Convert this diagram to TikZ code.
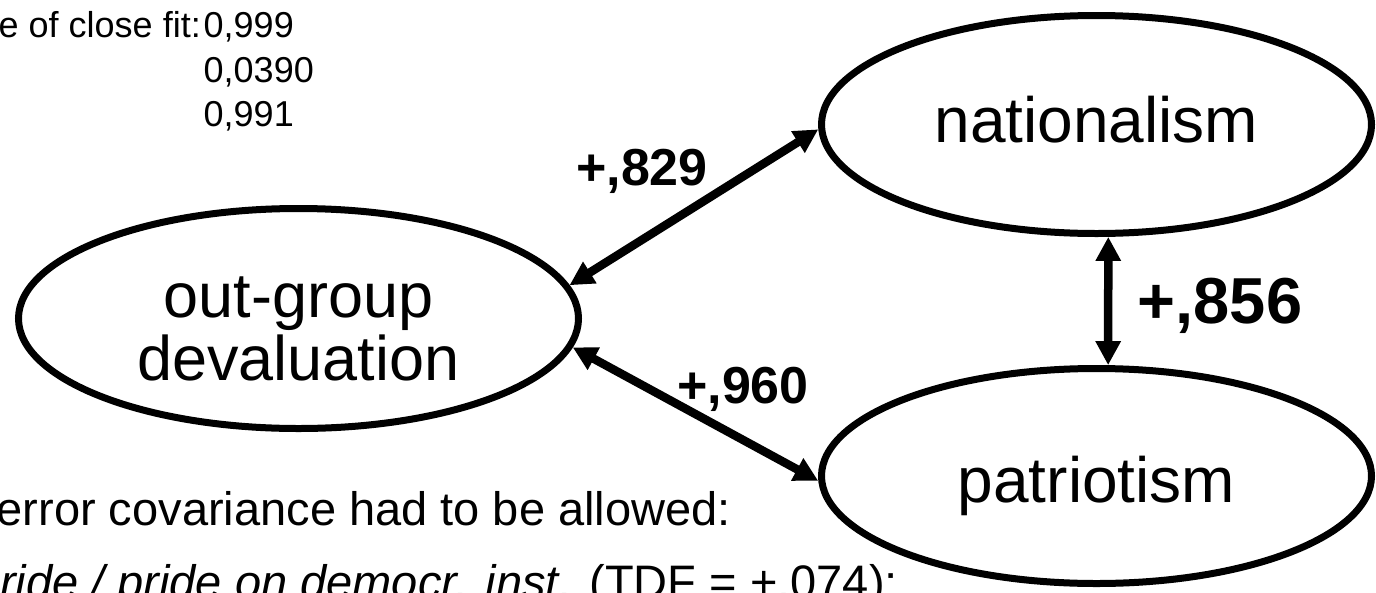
\documentclass[tikz,border=0pt]{standalone}
\usepackage{fontspec}
\setmainfont{Liberation Sans}
\usetikzlibrary{shapes.geometric,arrows.meta}
\begin{document}
\begin{tikzpicture}[x=1pt,y=-1pt,
  latent/.style={ellipse,draw=black,line width=7pt,inner sep=0pt,
     font=\fontsize{64}{64}\selectfont,align=center},
  covarrow/.style={line width=8.5pt,
     {Triangle[length=24pt,width=24pt]}-{Triangle[length=24pt,width=24pt]}},
  coef/.style={font=\bfseries\fontsize{52}{52}\selectfont,anchor=base,inner sep=0pt},
  fitlabel/.style={font=\fontsize{36}{36}\selectfont,inner sep=0pt},
  note/.style={font=\fontsize{47}{47}\selectfont,inner sep=0pt,anchor=base east}
]
\useasboundingbox (0,0) rectangle (1376,592);

% latent variables
\node[latent,minimum width=560pt,minimum height=220pt,
      font=\fontsize{63}{63}\selectfont,text height=123pt,text depth=0pt]
  (og) at (298.5,318.5) {out-group\\devaluation};
\node[latent,minimum width=550pt,minimum height=218pt,
      text height=36pt,text depth=0pt]
  (nat) at (1096.5,124.5) {nationalism};
\node[latent,minimum width=550pt,minimum height=215pt,
      text height=52pt,text depth=0pt]
  (pat) at (1096.5,476) {patriotism};

% covariances
\draw[covarrow] (og.7.45) -- (nat.181.7);
\draw[covarrow] (og.-6.25) -- (pat.181.8);
\draw[covarrow] (nat.-84.8) -- (pat.84.7);

% coefficients
\node[coef] (c829) at (642,185) {+,829};
\node[coef] (c960) at (743,403) {+,960};
\node[coef,font=\bfseries\fontsize{65}{65}\selectfont] (c856) at (1220,323) {+,856};

% fit indices
\node[fitlabel,anchor=base east] (fitname) at (201,37) {e of close fit:};
\node[fitlabel,anchor=base west] (fit1) at (203.5,37) {0,999};
\node[fitlabel,anchor=base west] (fit2) at (203.5,82) {0,0390};
\node[fitlabel,anchor=base west] (fit3) at (203.5,126) {0,991};

% notes
\node[note] (note1) at (731,525) {error covariance had to be allowed:};
\node[note] (note2) at (898,598) {{\itshape ride / pride on democr. inst.} (TDF = +,074);};
\end{tikzpicture}
\end{document}
